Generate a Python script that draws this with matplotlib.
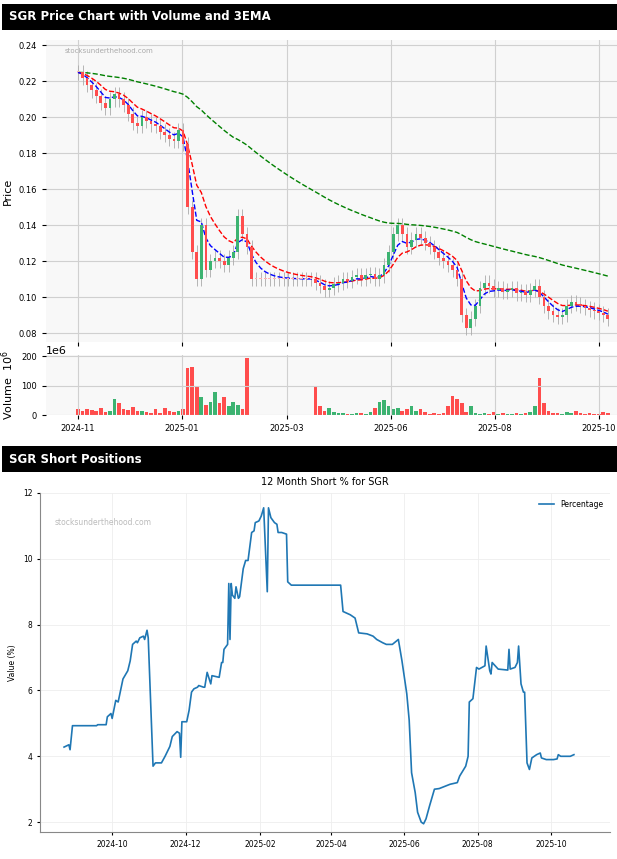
import matplotlib
matplotlib.use("Agg")
import matplotlib.pyplot as plt
import numpy as np
import pandas as pd

# ---- price data (one candle per index step) ----
closes = [0.225,0.222,0.218,0.215,0.212,0.208,0.205,0.210,0.213,0.210,0.207,0.202,0.197,0.195,0.200,0.198,0.196,0.195,0.192,0.190,0.188,0.187,0.193,0.185,
          0.150,0.125,0.110,0.140,0.115,0.120,0.122,0.120,0.118,0.122,0.125,0.145,0.135,0.128,
          0.110,0.110,0.110,0.110,0.110,0.110,0.110,0.110,0.110,0.110,0.110,0.110,0.110,0.110,
          0.108,0.106,0.104,0.105,0.107,0.108,0.110,0.109,0.111,0.112,0.110,0.112,0.113,0.110,0.112,0.118,0.125,0.135,
          0.140,0.135,0.128,0.132,0.135,0.133,0.130,0.128,0.125,0.122,0.120,
          0.118,0.115,0.110,0.090,0.083,0.088,0.095,
          0.105,0.108,0.106,0.104,0.105,0.103,0.104,0.105,0.102,0.103,0.101,0.104,0.106,0.100,0.095,
          0.092,0.090,0.089,0.090,0.095,0.097,0.096,0.095,0.094,0.093,0.092,0.091,0.090,0.088]
volumes = [20,15,22,18,12,25,10,15,55,40,20,18,28,15,12,10,8,22,6,25,12,10,15,20,
           160,165,100,60,35,45,80,40,60,30,45,35,20,195,
           0,0,0,0,0,0,0,0,0,0,0,0,0,0,
           95,30,15,25,10,8,6,5,4,6,8,5,10,25,45,50,30,20,
           25,15,20,30,15,20,10,5,8,4,6,
           30,65,55,40,10,30,8,
           5,6,4,10,3,6,5,4,8,5,6,10,30,125,40,
           12,8,6,5,10,8,12,6,5,8,4,5,10,6]
price_ticks = ["2024-11","2025-01","2025-03","2025-06","2025-08","2025-10"]
price_tick_pos = [0,22.8,45.7,68.5,91.3,114]

# ---- short position data ----
short_dates = ["2024-08-22","2024-08-26","2024-08-27","2024-08-29","2024-09-18","2024-09-19","2024-09-26","2024-09-27","2024-09-30","2024-10-01","2024-10-04","2024-10-06","2024-10-08","2024-10-10","2024-10-14","2024-10-16","2024-10-18","2024-10-21","2024-10-22","2024-10-24","2024-10-27","2024-10-28","2024-10-30","2024-10-31",
 "2024-11-04","2024-11-06","2024-11-11","2024-11-14","2024-11-18","2024-11-20","2024-11-24","2024-11-26","2024-11-27","2024-11-28","2024-12-02","2024-12-04","2024-12-06","2024-12-08","2024-12-11","2024-12-12","2024-12-16","2024-12-17","2024-12-19","2024-12-22","2024-12-23","2024-12-29","2024-12-31",
 "2025-01-01","2025-01-02","2025-01-05","2025-01-06","2025-01-07","2025-01-08","2025-01-09","2025-01-11","2025-01-12","2025-01-14","2025-01-15","2025-01-18","2025-01-20","2025-01-22","2025-01-25","2025-01-27","2025-01-28","2025-01-31","2025-02-02","2025-02-04","2025-02-07","2025-02-08","2025-02-10","2025-02-13","2025-02-15","2025-02-16","2025-02-19","2025-02-23","2025-02-24","2025-02-27",
 "2025-04-09","2025-04-11","2025-04-17","2025-04-21","2025-04-24","2025-05-01","2025-05-06","2025-05-09","2025-05-14","2025-05-17","2025-05-22","2025-05-27","2025-05-30","2025-06-03","2025-06-05","2025-06-07","2025-06-10","2025-06-12","2025-06-15","2025-06-17","2025-06-19","2025-06-22","2025-06-26","2025-06-30",
 "2025-07-09","2025-07-15","2025-07-17","2025-07-22","2025-07-24","2025-07-25","2025-07-28","2025-07-31","2025-08-02","2025-08-07","2025-08-08","2025-08-11","2025-08-12","2025-08-13","2025-08-18","2025-08-26","2025-08-27","2025-08-28","2025-09-01","2025-09-03","2025-09-04","2025-09-06","2025-09-08","2025-09-09","2025-09-11","2025-09-13","2025-09-15","2025-09-19","2025-09-22","2025-09-23","2025-09-27","2025-10-03","2025-10-06","2025-10-07","2025-10-09","2025-10-17","2025-10-20"]
short_values = [4.28,4.35,4.2,4.93,4.93,4.96,4.96,5.2,5.3,5.15,5.7,5.65,6.0,6.35,6.6,6.9,7.4,7.5,7.45,7.6,7.65,7.55,7.83,7.6,
 3.7,3.8,3.8,4.0,4.3,4.6,4.75,4.7,3.97,5.05,5.05,5.4,5.95,6.05,6.1,6.15,6.1,6.1,6.55,6.2,6.45,6.4,6.85,
 6.85,7.25,7.4,9.25,7.55,9.25,8.9,8.8,9.15,8.8,8.85,9.7,9.95,9.95,10.8,10.85,11.1,11.15,11.3,11.55,9.0,11.55,11.25,11.1,11.05,10.8,10.8,10.75,9.3,9.2,
 9.2,8.4,8.3,8.2,7.75,7.72,7.65,7.55,7.45,7.4,7.4,7.55,6.9,5.9,5.1,3.5,2.9,2.3,2.0,1.95,2.1,2.5,3.0,3.02,
 3.15,3.2,3.4,3.7,4.0,5.65,5.75,6.7,6.65,6.75,7.35,6.6,6.5,6.85,6.65,6.62,7.25,6.65,6.7,6.85,7.35,6.2,5.95,5.95,3.8,3.6,3.95,4.05,4.1,3.95,3.9,3.9,3.92,4.05,4.0,4.0,4.05]
short_ticks = ["2024-10","2024-12","2025-02","2025-04","2025-06","2025-08","2025-10"]

fig = plt.figure(figsize=(6.17, 8.59), dpi=100)
W, H = 617, 859
def rect(x0, y0, x1, y1):
    return [x0/W, 1-y1/H, (x1-x0)/W, (y1-y0)/H]

for (y0, y1, txt) in [(4, 30, "SGR Price Chart with Volume and 3EMA"), (446, 472, "SGR Short Positions")]:
    hax = fig.add_axes(rect(2, y0, 617, y1)); hax.set_facecolor("black")
    hax.set_xticks([]); hax.set_yticks([])
    for s in hax.spines.values(): s.set_visible(False)
    hax.text(0.012, 0.5, txt, color="white", fontsize=8.5, fontweight="bold", va="center", transform=hax.transAxes)

ax = fig.add_axes(rect(46, 40, 617, 342))
ax.set_facecolor("#f8f8f8")
c = np.array(closes); opens = np.r_[c[0], c[:-1]]
x = np.arange(len(c))
ema_g = pd.Series(c).ewm(span=70, adjust=False).mean()
ema_r = pd.Series(c).ewm(span=10, adjust=False).mean()
ema_b = pd.Series(c).ewm(span=5, adjust=False).mean()
for i in x:
    o, cl = opens[i], c[i]
    col = "#3cb371" if cl > o else ("#ff4d4d" if cl < o else "#ffb0b0")
    ax.vlines(i, min(o, cl) - 0.004, max(o, cl) + 0.004, color="#aaaaaa", lw=0.6, zorder=2)
    ax.bar(i, max(abs(cl - o), 0.0006), bottom=min(o, cl), width=0.6, color=col, zorder=3)
ax.plot(x, ema_g, "--", color="green", lw=1)
ax.plot(x, ema_r, "--", color="red", lw=1)
ax.plot(x, ema_b, "--", color="blue", lw=1)
ax.set_ylim(0.075, 0.243)
ax.set_yticks(np.arange(0.08, 0.241, 0.02))
ax.yaxis.set_major_formatter(matplotlib.ticker.FormatStrFormatter("%.2f"))
ax.set_xlim(-7, len(c) + 1)
ax.set_xticks(price_tick_pos); ax.set_xticklabels([])
ax.grid(True, color="#d0d0d0", lw=0.8)
ax.set_ylabel("Price", fontsize=8)
ax.tick_params(labelsize=6, length=3)
for s in ax.spines.values(): s.set_visible(False)
ax.text(-3, 0.236, "stocksunderthehood.com", fontsize=5, color="#aaaaaa")

vax = fig.add_axes(rect(46, 355, 617, 415))
vax.set_facecolor("#f8f8f8")
vcols = ["#3cb371" if c[i] > opens[i] else "#ff4d4d" for i in x]
vax.bar(x, volumes, width=0.8, color=vcols)
vax.set_xlim(-7, len(c) + 1); vax.set_ylim(0, 205)
vax.set_yticks([0, 100, 200])
vax.set_xticks(price_tick_pos); vax.set_xticklabels(price_ticks)
vax.grid(True, color="#d0d0d0", lw=0.8)
vax.set_ylabel("Volume  $10^6$", fontsize=8)
vax.tick_params(labelsize=6, length=3)
vax.text(0, 1.02, "1e6", fontsize=8, transform=vax.transAxes)
for s in vax.spines.values(): s.set_visible(False)

sax = fig.add_axes(rect(40, 493, 610, 832))
d = pd.to_datetime(short_dates)
sax.plot(d, short_values, color="#1f77b4", lw=1.2, label="Percentage")
sax.set_title("12 Month Short % for SGR", fontsize=7, pad=6)
sax.set_ylabel("Value (%)", fontsize=5.5)
sax.set_ylim(1.7, 12.0)
sax.set_yticks([2, 4, 6, 8, 10, 12])
sax.set_xlim(pd.Timestamp("2024-08-02"), pd.Timestamp("2025-11-19"))
tk = pd.to_datetime([t + "-01" for t in short_ticks])
sax.set_xticks(tk); sax.set_xticklabels(short_ticks)
sax.tick_params(labelsize=5.5, length=2)
sax.grid(True, color="#eeeeee", lw=0.6)
for s in ["top", "right"]: sax.spines[s].set_visible(False)
for s in ["left", "bottom"]: sax.spines[s].set_color("#888888")
sax.legend(loc="upper right", fontsize=5.5, frameon=False)
sax.text(0.025, 0.905, "stocksunderthehood.com", fontsize=5.5, color="#bbbbbb", transform=sax.transAxes)

fig.savefig("out.png", dpi=100)
